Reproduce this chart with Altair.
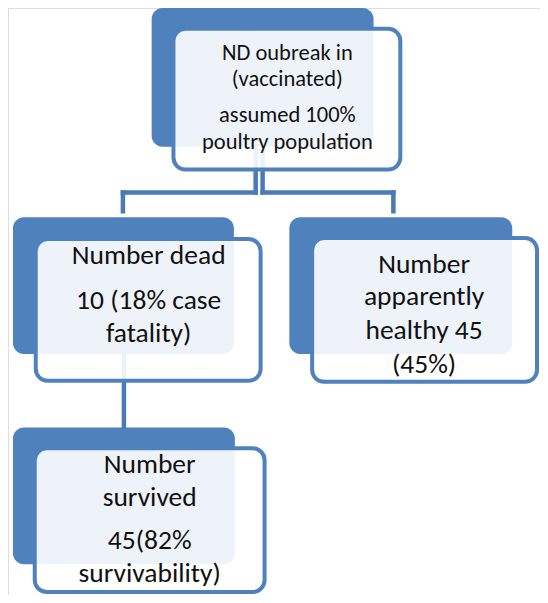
import altair as alt
import pandas as pd

# ---- diagram data (diagram units) ----
box_ids = ["top", "dead", "healthy", "survived"]
back_x0 = [153, 13, 292, 13]
back_x1 = [377, 236, 517, 237]
back_y0 = [8, 219, 219, 431]
back_y1 = [148, 357, 357, 569]
front_x0 = [175, 36, 315, 35]
front_x1 = [404, 263, 542, 267]
front_y0 = [29, 241, 240, 452]
front_y1 = [171, 384, 385, 597]

labels = [
    ["ND oubreak in", "(vaccinated)", "assumed 100%", "poultry population"],
    ["Number dead", "10 (18% case", "fatality)"],
    ["Number", "apparently", "healthy 45", "(45%)"],
    ["Number", "survived", "45(82%", "survivability)"],
]
label_x = [290, 150, 428, 151]
label_baselines = [[60, 87, 123, 150], [266, 312, 345], [275, 308, 342, 376], [477, 510, 554, 587]]
label_sizes = [22.5, 27.5, 27.5, 27.5]

# connector segments: (x, y, x2, y2)
conn_x = [258, 258, 124, 265, 265, 397, 125]
conn_y = [148, 194, 194, 148, 194, 194, 357]
conn_x2 = [258, 124, 124, 265, 397, 397, 125]
conn_y2 = [194, 194, 213, 194, 194, 213, 430]

BLUE = "#4f81bd"
FONT = "Carlito, Lato, sans-serif"

backs = pd.DataFrame({"id": box_ids, "x0": back_x0, "x1": back_x1, "y0": back_y0, "y1": back_y1})
fronts = pd.DataFrame({"id": box_ids, "x0": front_x0, "x1": front_x1, "y0": front_y0, "y1": front_y1})
conns = pd.DataFrame({"x": conn_x, "y": conn_y, "x2": conn_x2, "y2": conn_y2})
rows = []
for i, lines in enumerate(labels):
    for t, yb in zip(lines, label_baselines[i]):
        rows.append({"x": label_x[i], "y": yb, "text": t, "fs": label_sizes[i]})
texts = pd.DataFrame(rows)

xs = alt.Scale(domain=[8, 545], nice=False, zero=False)
ys = alt.Scale(domain=[8, 600], nice=False, zero=False, reverse=True)
noax = None

back_layer = alt.Chart(backs).mark_rect(fill=BLUE, cornerRadius=11).encode(
    x=alt.X("x0:Q", scale=xs, axis=noax), x2="x1", y=alt.Y("y0:Q", scale=ys, axis=noax), y2="y1"
)
conn_layer = alt.Chart(conns).mark_rule(color="#4a7bb7", strokeWidth=4.5, strokeCap="square").encode(
    x=alt.X("x:Q", scale=xs, axis=noax), x2="x2", y=alt.Y("y:Q", scale=ys, axis=noax), y2="y2"
)
front_layer = alt.Chart(fronts).mark_rect(
    fill="white", fillOpacity=0.9, stroke=BLUE, strokeWidth=4, cornerRadius=12
).encode(
    x=alt.X("x0:Q", scale=xs, axis=noax), x2="x1", y=alt.Y("y0:Q", scale=ys, axis=noax), y2="y1"
)
text_layer = alt.Chart(texts).mark_text(
    align="center", baseline="alphabetic", font=FONT, color="#111111"
).encode(
    x=alt.X("x:Q", scale=xs, axis=noax),
    y=alt.Y("y:Q", scale=ys, axis=noax),
    text="text:N",
    size=alt.Size("fs:Q", scale=None, legend=None),
)

chart = (
    alt.layer(back_layer, conn_layer, front_layer, text_layer)
    .properties(width=532, height=587, autosize=alt.AutoSizeParams(type="none"), padding=0)
    .configure_view(stroke=None)
    .configure(background="white")
)
chart.save("out.html", embed_options={"renderer": "svg", "actions": False})
